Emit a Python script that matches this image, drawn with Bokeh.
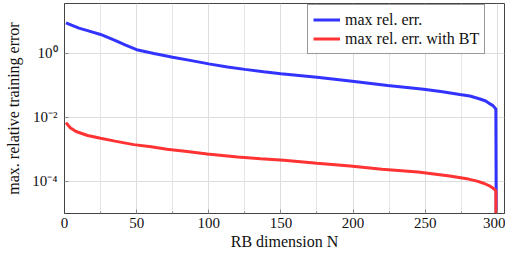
from bokeh.plotting import figure
from bokeh.embed import file_html
from bokeh.resources import INLINE
from bokeh.models import FixedTicker, Legend, LegendItem

# ---- data ----
n_plain = [1, 4, 10, 16, 25, 35, 42, 50, 62, 75, 88, 100, 113, 125, 138, 150, 175, 198, 224,
           249, 262, 274, 281, 288, 292, 295, 297, 299, 300]
err_plain = [8.7, 7.7, 6.0, 5.0, 3.8, 2.5, 1.8, 1.27, 0.97, 0.74, 0.58, 0.46, 0.37, 0.31, 0.26,
             0.225, 0.176, 0.135, 0.097, 0.075, 0.062, 0.051, 0.046, 0.037, 0.032, 0.026,
             0.023, 0.018, 1e-14]

n_bt = [1, 4, 8, 16, 25, 35, 48, 60, 71, 85, 99, 120, 136, 152, 175, 198, 220, 245, 267,
        280, 286, 291, 295, 297, 299, 300]
err_bt = [0.0068, 0.0047, 0.0036, 0.0027, 0.0022, 0.0018, 0.0014, 0.0012, 0.001, 0.00085,
          0.00072, 0.00058, 0.00051, 0.00046, 0.00037, 0.0003, 0.00024, 0.000196, 0.000148,
          0.000118, 0.000102, 8.6e-5, 7.1e-5, 6.2e-5, 5.2e-5, 1e-14]

x_ticks = [0, 50, 100, 150, 200, 250, 300]
x_minor = [25, 75, 125, 175, 225, 275]
y_ticks = [1e0, 1e-2, 1e-4]
y_tick_labels = ["10\u2070", "10\u207b\u00b2", "10\u207b\u2074"]
label_plain = "max rel. err."
label_bt = "max rel. err. with BT"
x_label = "RB dimension N"
y_label = "max. relative training error"

FONT = "Liberation Serif"

p = figure(width=505, height=252, output_backend="svg", toolbar_location=None,
           y_axis_type="log", x_range=(0, 305), y_range=(1e-5, 35),
           min_border_left=64, min_border_right=1, min_border_top=3, min_border_bottom=38)

r_plain = p.line(n_plain, err_plain, line_color="#3333ff", line_width=3)
r_bt = p.line(n_bt, err_bt, line_color="#ff3333", line_width=3)

p.outline_line_color = "#444444"
p.outline_line_width = 1
for ax in (p.xaxis[0], p.yaxis[0]):
    ax.axis_line_color = "#444444"
    ax.major_tick_out = 0
    ax.major_tick_in = 4
    ax.minor_tick_out = 0
    ax.minor_tick_in = 2
    ax.major_tick_line_color = "#888888"
    ax.minor_tick_line_color = "#888888"
    ax.major_label_text_font = FONT
    ax.major_label_text_font_size = "15px"
    ax.major_label_text_color = "#111111"
    ax.axis_label_text_font = FONT
    ax.axis_label_text_font_size = "16px"
    ax.axis_label_text_font_style = "normal"
    ax.axis_label_text_color = "#111111"

p.xaxis.ticker = FixedTicker(ticks=x_ticks, minor_ticks=x_minor)
p.xaxis.axis_label = x_label
p.xaxis.major_label_standoff = 4
p.xaxis.axis_label_standoff = 2

p.yaxis.ticker = FixedTicker(ticks=y_ticks, minor_ticks=[])
p.yaxis.major_label_overrides = {t: l for t, l in zip(y_ticks, y_tick_labels)}
p.yaxis.axis_label = y_label
p.yaxis.major_label_standoff = 7
p.yaxis.axis_label_standoff = 7

p.xgrid.grid_line_color = "#dddddd"
p.xgrid.minor_grid_line_color = "#e6e6e6"
p.ygrid.grid_line_color = "#dddddd"

legend = Legend(items=[LegendItem(label=label_plain, renderers=[r_plain]),
                       LegendItem(label=label_bt, renderers=[r_bt])],
                location=(243, 159), label_text_font=FONT, label_text_font_size="16px",
                label_text_color="#111111", glyph_width=27, glyph_height=19,
                label_height=19, spacing=0, padding=5, margin=0,
                border_line_color="#333333", border_line_width=1,
                label_standoff=5)
p.add_layout(legend, "center")

open("out.html", "w").write(file_html(p, INLINE))
